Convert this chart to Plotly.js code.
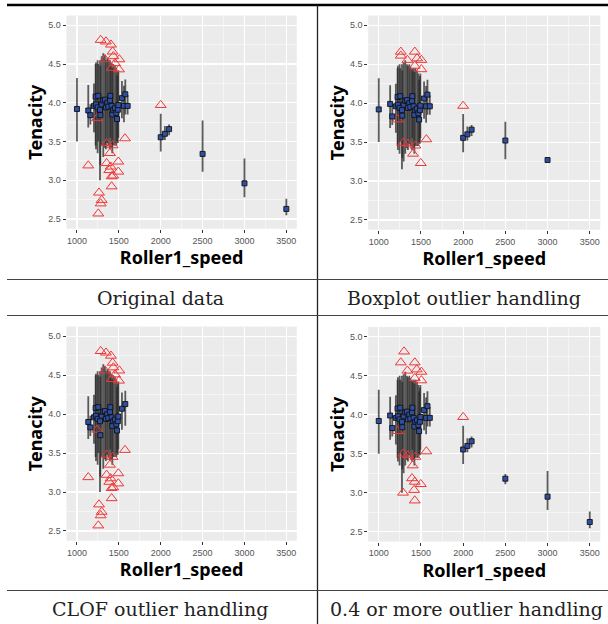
<!DOCTYPE html>
<html>
<head>
<meta charset="utf-8">
<script src="https://cdn.plot.ly/plotly-3.0.1.min.js"></script>
<style>
html,body{margin:0;padding:0;background:#fff;}
#chart{width:608px;height:624px;}
</style>
</head>
<body>
<div id="chart"></div>
<script>
// ---------- Data ----------
const captions = ["Original data", "Boxplot outlier handling", "CLOF outlier handling", "0.4 or more outlier handling"];
const xTickVals = [1000, 1500, 2000, 2500, 3000, 3500];
const yTickVals = [2.5, 3.0, 3.5, 4.0, 4.5, 5.0];

// Panel 1: Original data
const p1Speed = [1000,1135,1160,1203,1223,1227,1247,1254,1275,1279,1295,1314,1334,1346,1362,1374,1394,1398,1414,1422,1434,1454,1470,1478,1488,1494,1537,1561,1577,1605,2000,2050,2100,2500,3000,3500];
const p1Mean  = [3.92,3.90,3.84,3.96,4.08,3.98,3.94,4.09,3.91,3.84,3.98,4.03,4.04,3.94,4.00,3.95,4.03,4.09,3.96,3.85,3.91,3.93,3.87,3.79,3.91,3.97,4.06,3.96,4.11,3.96,3.555,3.60,3.66,3.34,2.96,2.63];
const p1Low   = [3.50,3.68,3.72,3.62,3.45,3.40,3.35,3.50,3.00,3.20,3.45,3.30,3.42,3.40,3.48,3.45,3.40,3.55,3.42,3.35,3.45,3.45,3.45,3.50,3.48,3.55,3.80,3.75,3.85,3.85,3.37,3.52,3.58,3.11,2.78,2.55];
const p1High  = [4.32,4.23,3.98,4.25,4.50,4.52,4.55,4.50,4.55,4.48,4.60,4.64,4.62,4.55,4.58,4.55,4.55,4.50,4.52,4.45,4.50,4.48,4.45,4.35,4.40,4.42,4.28,4.22,4.30,4.10,3.86,3.70,3.72,3.77,3.28,2.76];
const p1TriSpeed = [1283,1346,1406,1426,1434,1334,1506,1454,1414,1502,2000,1240,1573,1354,1426,1394,1135,1354,1494,1402,1386,1494,1414,1434,1414,1263,1295,1283,1255];
const p1TriValue = [4.81,4.79,4.75,4.66,4.60,4.56,4.56,4.51,4.45,4.43,3.97,3.80,3.54,3.48,3.45,3.35,3.19,3.22,3.24,3.175,3.13,3.11,3.05,3.06,2.92,2.84,2.745,2.70,2.57];

// Panel 2: Boxplot outlier handling
const p2Speed = [1000,1135,1160,1203,1223,1227,1247,1254,1275,1279,1295,1314,1334,1346,1362,1374,1394,1398,1414,1422,1434,1454,1470,1478,1488,1494,1537,1561,1577,1605,2000,2050,2100,2500,3000];
const p2Mean  = [3.92,3.99,3.83,3.96,4.08,3.98,3.94,4.09,3.91,3.84,3.98,4.03,4.04,3.94,4.00,3.95,4.03,4.09,3.96,3.85,3.91,3.93,3.87,3.79,3.91,3.97,4.06,3.96,4.11,3.96,3.555,3.60,3.66,3.52,3.27];
const p2Low   = [3.50,3.68,3.72,3.62,3.45,3.40,3.35,3.50,3.15,3.30,3.25,3.35,3.42,3.40,3.48,3.45,3.40,3.55,3.42,3.35,3.45,3.45,3.45,3.50,3.48,3.55,3.80,3.75,3.85,3.85,3.37,3.52,3.58,3.28,3.27];
const p2High  = [4.32,4.23,3.98,4.25,4.45,4.48,4.50,4.45,4.50,4.42,4.52,4.55,4.50,4.48,4.50,4.47,4.45,4.42,4.45,4.40,4.45,4.42,4.38,4.30,4.35,4.38,4.28,4.22,4.30,4.10,3.86,3.70,3.72,3.76,3.27];
const p2TriSpeed = [1261,1261,1339,1427,1454,1505,1427,1505,2000,1225,1288,1347,1434,1406,1564,1498];
const p2TriValue = [4.66,4.61,4.555,4.66,4.575,4.555,4.48,4.435,3.965,3.79,3.49,3.48,3.455,3.35,3.535,3.23];

// Panel 3: CLOF outlier handling
const p3Speed = [1135,1160,1203,1223,1227,1247,1254,1275,1279,1295,1314,1334,1346,1362,1374,1394,1398,1414,1422,1434,1454,1470,1478,1488,1494,1537,1577];
const p3Mean  = [3.90,3.83,3.96,4.08,3.98,3.94,4.09,3.91,3.73,3.98,4.03,4.04,3.94,4.00,3.95,4.03,4.09,3.96,3.85,3.91,3.93,3.87,3.79,3.91,3.97,4.07,4.13];
const p3Low   = [3.68,3.72,3.62,3.45,3.40,3.35,3.50,3.00,3.20,3.45,3.30,3.42,3.40,3.48,3.45,3.40,3.55,3.42,3.35,3.45,3.45,3.45,3.50,3.48,3.55,3.80,3.85];
const p3High  = [4.23,3.98,4.25,4.50,4.52,4.55,4.50,4.55,4.48,4.60,4.64,4.62,4.55,4.58,4.55,4.55,4.50,4.52,4.45,4.50,4.48,4.45,4.35,4.40,4.42,4.28,4.30];
const p3TriSpeed = [1283,1346,1406,1426,1434,1334,1506,1454,1414,1502,1240,1573,1354,1426,1394,1135,1354,1494,1402,1386,1494,1414,1434,1414,1263,1295,1283,1255];
const p3TriValue = [4.81,4.79,4.75,4.66,4.60,4.56,4.56,4.51,4.45,4.43,3.80,3.54,3.48,3.45,3.35,3.19,3.22,3.24,3.175,3.13,3.11,3.05,3.06,2.92,2.84,2.745,2.70,2.57];

// Panel 4: 0.4 or more outlier handling
const p4Speed = [1000,1135,1160,1203,1223,1227,1247,1254,1275,1279,1295,1314,1334,1346,1362,1374,1394,1398,1414,1422,1434,1454,1470,1478,1488,1494,1537,1561,1577,1605,2000,2050,2100,2500,3000,3500];
const p4Mean  = [3.92,3.99,3.83,3.96,4.08,3.98,3.94,4.09,3.91,3.84,3.98,4.03,4.04,3.94,4.00,3.95,4.03,4.09,3.96,3.85,3.91,3.93,3.87,3.79,3.91,3.97,4.06,3.96,4.11,3.96,3.555,3.60,3.66,3.18,2.95,2.625];
const p4Low   = [3.50,3.68,3.72,3.62,3.45,3.40,3.35,3.50,3.00,3.30,3.25,3.35,3.42,3.40,3.48,3.45,3.40,3.55,3.42,3.35,3.45,3.45,3.45,3.50,3.48,3.55,3.80,3.75,3.85,3.85,3.37,3.52,3.58,3.11,2.78,2.545];
const p4High  = [4.32,4.23,3.98,4.25,4.45,4.48,4.50,4.45,4.50,4.42,4.52,4.55,4.50,4.48,4.50,4.47,4.45,4.42,4.45,4.40,4.45,4.42,4.38,4.30,4.35,4.38,4.28,4.22,4.30,4.10,3.86,3.70,3.72,3.24,3.28,2.76];
const p4TriSpeed = [1300,1261,1339,1427,1450,1505,1427,1505,2000,1225,1288,1347,1434,1402,1564,1394,1427,1498,1419,1288,1427];
const p4TriValue = [4.81,4.67,4.565,4.67,4.58,4.55,4.47,4.44,3.97,3.79,3.50,3.48,3.46,3.35,3.53,3.185,3.14,3.11,3.035,3.00,2.90];

// ---------- Layout geometry (pixels) ----------
const W = 608, H = 624;
const fx = px => px / W;
const fy = py => 1 - py / H;

const panels = [
  {speed:p1Speed, mean:p1Mean, low:p1Low, high:p1High, triX:p1TriSpeed, triY:p1TriValue, left:66.5,  right:296.8, top:15.6,  bottom:228.7},
  {speed:p2Speed, mean:p2Mean, low:p2Low, high:p2High, triX:p2TriSpeed, triY:p2TriValue, left:368.2, right:600.3, top:15.6,  bottom:229.7},
  {speed:p3Speed, mean:p3Mean, low:p3Low, high:p3High, triX:p3TriSpeed, triY:p3TriValue, left:66.5,  right:296.8, top:326.6, bottom:540.7},
  {speed:p4Speed, mean:p4Mean, low:p4Low, high:p4High, triX:p4TriSpeed, triY:p4TriValue, left:368.2, right:600.3, top:327.0, bottom:541.5}
];

const tickFont = {family:'Liberation Sans, Arial, sans-serif', size:9, color:'#555555'};
const titleFont = {family:'Noto Sans, Open Sans, sans-serif', size:18, color:'#000000', weight:'bold'};

const data = [];
const layout = {
  width: W, height: H,
  margin: {l:0, r:0, t:0, b:0},
  paper_bgcolor: '#ffffff',
  plot_bgcolor: '#EBEBEB',
  showlegend: false,
  shapes: [],
  annotations: []
};

panels.forEach((p, i) => {
  const n = i + 1;
  const xk = n === 1 ? 'x' : 'x' + n;
  const yk = n === 1 ? 'y' : 'y' + n;
  const xName = n === 1 ? 'xaxis' : 'xaxis' + n;
  const yName = n === 1 ? 'yaxis' : 'yaxis' + n;

  // error bars (drawn first, under the points)
  data.push({
    type:'scatter', mode:'markers', xaxis:xk, yaxis:yk,
    x:p.speed, y:p.mean,
    marker:{size:1, color:'rgba(0,0,0,0)'},
    error_y:{type:'data', symmetric:false,
      array:p.high.map((h, j) => h - p.mean[j]),
      arrayminus:p.low.map((l, j) => p.mean[j] - l),
      width:0, thickness:1.8, color:'rgba(40,40,40,0.75)'},
    hoverinfo:'skip'
  });
  // outliers (open red triangles)
  data.push({
    type:'scatter', mode:'markers', xaxis:xk, yaxis:yk,
    x:p.triX, y:p.triY,
    marker:{symbol:'triangle-up-open', size:9.5, color:'rgb(240,55,55)', line:{width:1, color:'rgb(240,55,55)'}}
  });
  // means (blue squares)
  data.push({
    type:'scatter', mode:'markers', xaxis:xk, yaxis:yk,
    x:p.speed, y:p.mean,
    marker:{symbol:'square', size:5, color:'#2F4FA2', line:{width:0.9, color:'#111111'}}
  });

  layout[xName] = {
    domain:[fx(p.left), fx(p.right)], anchor:yk,
    range:[875, 3625], tickvals:xTickVals, ticktext:xTickVals.map(String),
    ticks:'outside', ticklen:3, tickwidth:1, tickcolor:'#333333',
    tickfont:tickFont, showgrid:true, gridcolor:'#ffffff', gridwidth:1.1,
    minor:{dtick:250, tick0:1000, showgrid:true, gridcolor:'#ffffff', gridwidth:0.5},
    zeroline:false, showline:false, fixedrange:true,
    title:{text:'Roller1_speed', font:titleFont, standoff:4}
  };
  layout[yName] = {
    domain:[fy(p.bottom), fy(p.top)], anchor:xk,
    range:[2.375, 5.125], tickvals:yTickVals, ticktext:yTickVals.map(v => v.toFixed(1)),
    ticks:'outside', ticklen:3, tickwidth:1, tickcolor:'#333333',
    tickfont:tickFont, showgrid:true, gridcolor:'#ffffff', gridwidth:1.1,
    minor:{dtick:0.25, tick0:2.5, showgrid:true, gridcolor:'#ffffff', gridwidth:0.5},
    zeroline:false, showline:false, fixedrange:true,
    title:{text:'Tenacity', font:titleFont, standoff:0}
  };
});

// table lines
const lineDark = {color:'#000000', width:2.5};
const lineGray = {color:'#444444', width:1};
layout.shapes.push({type:'line', xref:'paper', yref:'paper', x0:fx(7), x1:1, y0:fy(5), y1:fy(5), line:lineDark});
layout.shapes.push({type:'line', xref:'paper', yref:'paper', x0:fx(317.5), x1:fx(317.5), y0:fy(5), y1:0, line:{color:'#222222', width:1.3}});
[279.5, 315.5, 590.5].forEach(py => {
  layout.shapes.push({type:'line', xref:'paper', yref:'paper', x0:fx(7), x1:1, y0:fy(py), y1:fy(py), line:lineGray});
});

// captions
const capFont = {family:'DejaVu Serif, Liberation Serif, serif', size:19, color:'#222222'};
const capPos = [[160, 297.5], [464, 297.5], [160, 608.5], [466, 608.5]];
captions.forEach((c, i) => {
  layout.annotations.push({
    text:c, xref:'paper', yref:'paper', x:fx(capPos[i][0]), y:fy(capPos[i][1]),
    xanchor:'center', yanchor:'middle', showarrow:false, font:capFont
  });
});

Plotly.newPlot('chart', data, layout, {staticPlot:true, displayModeBar:false});
</script>
</body>
</html>
